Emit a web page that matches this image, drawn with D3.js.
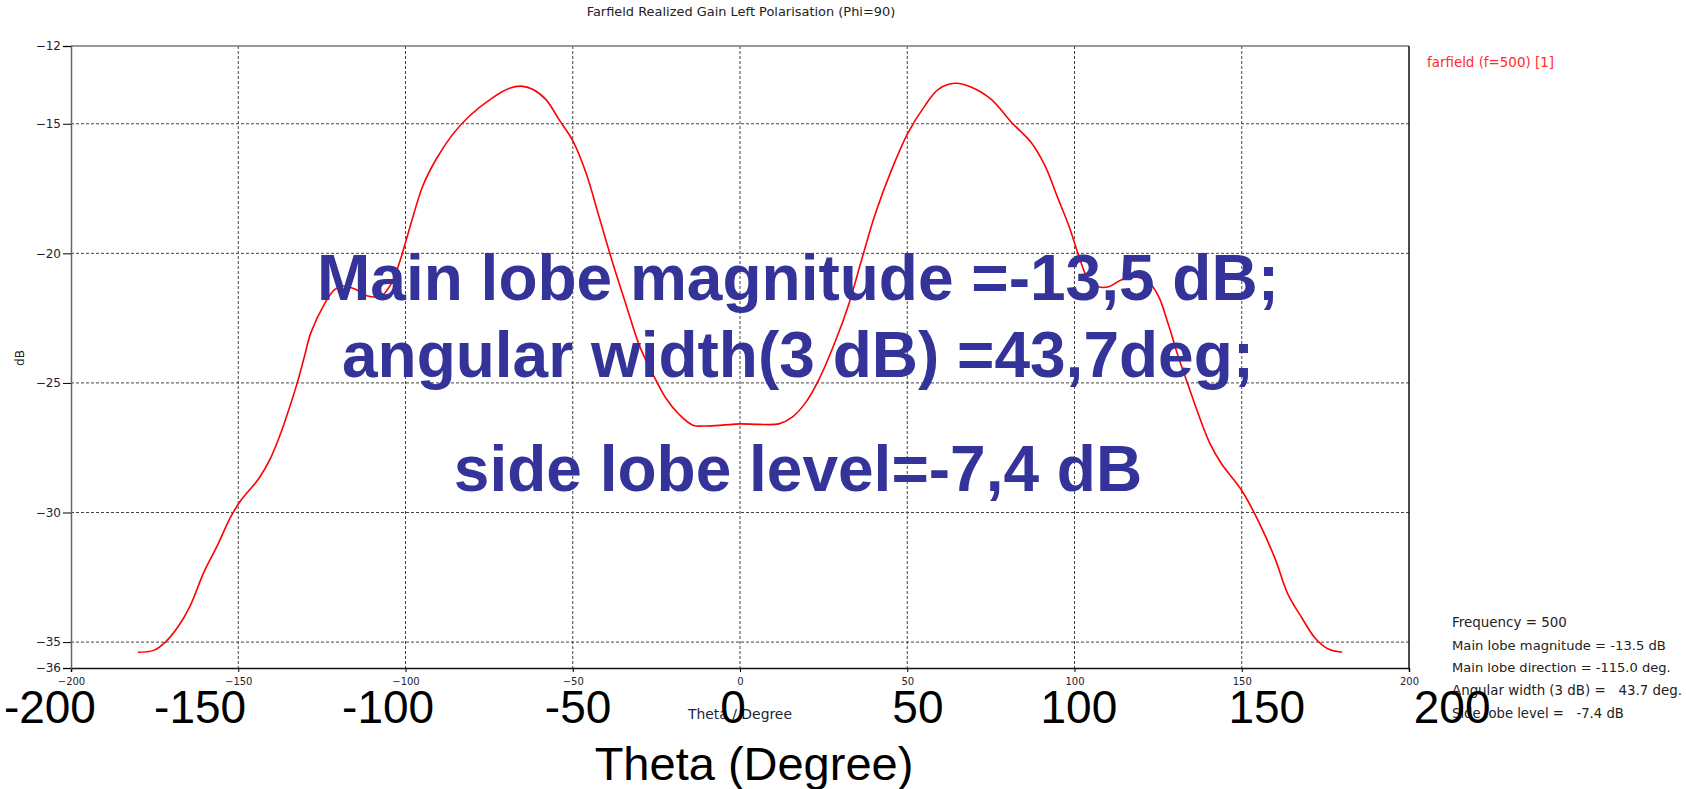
<!DOCTYPE html>
<html><head><meta charset="utf-8">
<script src="https://cdn.jsdelivr.net/npm/d3@7"></script>
<style>body{margin:0;background:#fff;}svg{display:block;}</style>
</head><body>
<svg id="chart" width="1686" height="789"></svg>
<script>
// ---------- DATA ----------
const theta = [-180,-175.3,-171.8,-167.8,-164.3,-160.3,-156.3,-152.3,-149.3,-143.8,-140.3,-137.3,-134.8,-132.3,-130.3,-128.3,-124.3,-121.3,-118.8,-115.3,-111.3,-107.3,-104.3,-101.8,-98.8,-97.8,-94.8,-90.8,-85.9,-80.9,-73.9,-68.9,-65.4,-62,-58,-54,-50,-46,-42,-38,-34.1,-30.1,-26.1,-22.1,-18.1,-14.1,-10.2,-5.2,0,5.7,11.6,15.6,19.6,23.5,28.5,32.5,36.4,40.4,45.4,50.3,55.3,59.3,64.3,69.2,75.2,81.1,87.1,91.1,95,98.5,101.2,104.2,107.2,110.2,114.1,118.1,122.1,125.1,128.1,131.1,134.1,137.1,140.5,144,150,155,159.9,163.9,167.9,171.9,175.9,180];
const gain = [-35.39,-35.32,-35.0,-34.37,-33.58,-32.31,-31.29,-30.18,-29.55,-28.68,-27.89,-26.94,-26.0,-24.97,-24.02,-23.07,-21.97,-21.41,-21.26,-21.37,-21.65,-21.65,-21.18,-20.35,-19.04,-18.6,-17.39,-16.36,-15.41,-14.70,-13.99,-13.63,-13.55,-13.67,-14.07,-14.86,-15.65,-16.91,-18.65,-20.39,-21.97,-23.55,-24.65,-25.6,-26.23,-26.63,-26.66,-26.63,-26.58,-26.6,-26.58,-26.32,-25.76,-24.89,-23.39,-21.97,-20.23,-18.49,-16.75,-15.33,-14.30,-13.67,-13.44,-13.59,-14.07,-14.94,-15.73,-16.60,-17.86,-19.0,-20.07,-21.02,-21.29,-21.29,-21.02,-20.91,-21.10,-21.65,-22.76,-24.02,-25.13,-26.23,-27.34,-28.13,-29.15,-30.34,-31.76,-33.18,-34.05,-34.84,-35.27,-35.39];
const xTicks = [-200,-150,-100,-50,0,50,100,150,200];
const yTicks = [-12,-15,-20,-25,-30,-35,-36];
const yGrid = [-15,-20,-25,-30,-35];
const bigXLabels = ["-200","-150","-100","-50","0","50","100","150","200"];
const titleText = "Farfield Realized Gain Left Polarisation (Phi=90)";
const legendText = "farfield (f=500) [1]";
const infoLines = ["Frequency = 500","Main lobe magnitude = -13.5 dB","Main lobe direction = -115.0 deg.","Angular width (3 dB) =   43.7 deg.","Side lobe level =   -7.4 dB"];
const overlayLines = ["Main lobe magnitude =-13,5 dB;","angular width(3 dB) =43,7deg;","side lobe level=-7,4 dB"];

// ---------- LAYOUT ----------
const svg = d3.select("#chart");
const L = 71, R = 1409, T = 46, B = 668;
const x = d3.scaleLinear().domain([-200,200]).range([L,R]);
const y = d3.scaleLinear().domain([-36,-12]).range([B,T]);
const small = "'DejaVu Sans', Verdana, sans-serif";
const arial = "'Liberation Sans', Arial, sans-serif";

// size a text so its width matches the target width
function fit(sel, w) {
  sel.each(function(){
    const len = this.getComputedTextLength();
    const fs = parseFloat(this.getAttribute("font-size"));
    if (len > 0) this.setAttribute("font-size", (fs * w / len).toFixed(2));
  });
}

// grid
svg.append("g").selectAll("line").data(xTicks.slice(1,-1)).join("line")
  .attr("x1",d=>x(d)).attr("x2",d=>x(d)).attr("y1",T).attr("y2",B)
  .attr("stroke","#444").attr("stroke-width",1).attr("stroke-dasharray","3,2");
svg.append("g").selectAll("line").data(yGrid).join("line")
  .attr("x1",L).attr("x2",R).attr("y1",d=>y(d)).attr("y2",d=>y(d))
  .attr("stroke","#444").attr("stroke-width",1).attr("stroke-dasharray","3,2");

// frame
svg.append("line").attr("x1",L).attr("x2",R).attr("y1",T).attr("y2",T).attr("stroke","#777").attr("stroke-width",1.5);
svg.append("line").attr("x1",R).attr("x2",R).attr("y1",T).attr("y2",B).attr("stroke","#111").attr("stroke-width",1.5);

// axes
const ax = svg.append("g").attr("transform",`translate(0,${B})`)
  .call(d3.axisBottom(x).tickValues(xTicks).tickSize(4).tickPadding(6).tickFormat(d3.format("d")));
ax.select(".domain").attr("stroke","#111").attr("stroke-width",1.5);
ax.selectAll("text").attr("font-family",small).attr("font-size",10).attr("fill","#223");
const ay = svg.append("g").attr("transform",`translate(${L},0)`)
  .call(d3.axisLeft(y).tickValues(yTicks).tickSize(8).tickPadding(2).tickFormat(d3.format("d")));
ay.select(".domain").attr("stroke","#666").attr("stroke-width",1.5);
ay.selectAll("text").attr("font-family",small).attr("font-size",12).attr("fill","#223");

// curve
const pts = theta.map((t,i)=>[t,gain[i]]);
svg.append("path").datum(pts)
  .attr("d", d3.line().x(d=>x(d[0])).y(d=>y(d[1])).curve(d3.curveCatmullRom))
  .attr("fill","none").attr("stroke","#ff0000").attr("stroke-width",1.6);

// small texts
svg.append("text").attr("x",741).attr("y",16).attr("text-anchor","middle")
  .attr("font-family",small).attr("font-size",12).attr("fill","#222").text(titleText).call(fit,309);
svg.append("text").attr("x",20).attr("y",358).attr("text-anchor","middle")
  .attr("transform","rotate(-90,20,358)").attr("dy","0.35em")
  .attr("font-family",small).attr("font-size",12).attr("fill","#222").text("dB");
svg.append("text").attr("x",740).attr("y",719).attr("text-anchor","middle")
  .attr("font-family",small).attr("font-size",12).attr("fill","#223").text("Theta / Degree").call(fit,104);
svg.append("text").attr("x",1427).attr("y",67)
  .attr("font-family",small).attr("font-size",12).attr("fill","#ff2a2a").text(legendText).call(fit,127);
const infoW = [115,214,219,230,172];
svg.append("g").selectAll("text").data(infoLines).join("text")
  .attr("x",1452).attr("y",(d,i)=>627+i*22.7)
  .attr("font-family",small).attr("font-size",12).attr("fill","#222")
  .attr("xml:space","preserve").style("white-space","pre").text(d=>d)
  .each(function(d,i){ d3.select(this).call(fit, infoW[i]); });

// big overlay texts
const bigTheta = [-206.3,-161.4,-105.2,-48.4,-2.1,53.2,101.3,157.5,212.9];
svg.append("g").selectAll("text").data(bigXLabels).join("text")
  .attr("x",(d,i)=>x(bigTheta[i])).attr("y",723).attr("text-anchor","middle")
  .attr("font-family",arial).attr("font-size",46).attr("fill","#000").text(d=>d);
svg.append("text").attr("x",754).attr("y",780).attr("text-anchor","middle")
  .attr("font-family",arial).attr("font-size",47).attr("fill","#000").text("Theta (Degree)");
const ob = [300,377,491];
svg.append("g").selectAll("text").data(overlayLines).join("text")
  .attr("x",798).attr("y",(d,i)=>ob[i]).attr("text-anchor","middle")
  .attr("font-family",arial).attr("font-weight","bold")
  .attr("font-size",64).attr("fill","#333399").text(d=>d);
</script>
</body></html>
